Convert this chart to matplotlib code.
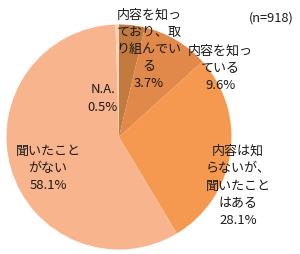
import matplotlib
matplotlib.use("Agg")
import matplotlib.pyplot as plt

plt.rcParams['font.family'] = ['Noto Sans CJK JP', 'DejaVu Sans']

labels = ["内容を知っ\nており、取\nり組んでい\nる", "内容を知っ\nている", "内容は知\nらないが、\n聞いたこと\nはある", "聞いたこと\nがない", "N.A."]
values = [3.7, 9.6, 28.1, 58.1, 0.5]
colors = ["#C27A3E", "#E0894A", "#F4994F", "#F8B48D", "#FBD3BC"]
label_pos = [(149, 204.5), (220, 185.5), (238, 68), (48, 85.5), (103, 155.5)]
note = "(n=918)"

fig = plt.figure(figsize=(3.0, 2.54), dpi=100)
ax = fig.add_axes([0, 0, 1, 1])
ax.pie(values, colors=colors, startangle=90, counterclock=False,
       center=(119, 117), radius=112.5, frame=True,
       wedgeprops=dict(linewidth=0))
ax.set_xlim(0, 300)
ax.set_ylim(0, 254)
ax.set_aspect('equal')
ax.axis('off')

for lab, v, (x, y) in zip(labels, values, label_pos):
    ax.text(x, y, f"{lab}\n{v:.1f}%", ha='center', va='center',
            fontsize=9.4, linespacing=1.42, color='#1a1a1a')

ax.text(271, 236, note, ha='center', va='center', fontsize=9.2, color='#1a1a1a')

fig.savefig("out.png", dpi=100)
